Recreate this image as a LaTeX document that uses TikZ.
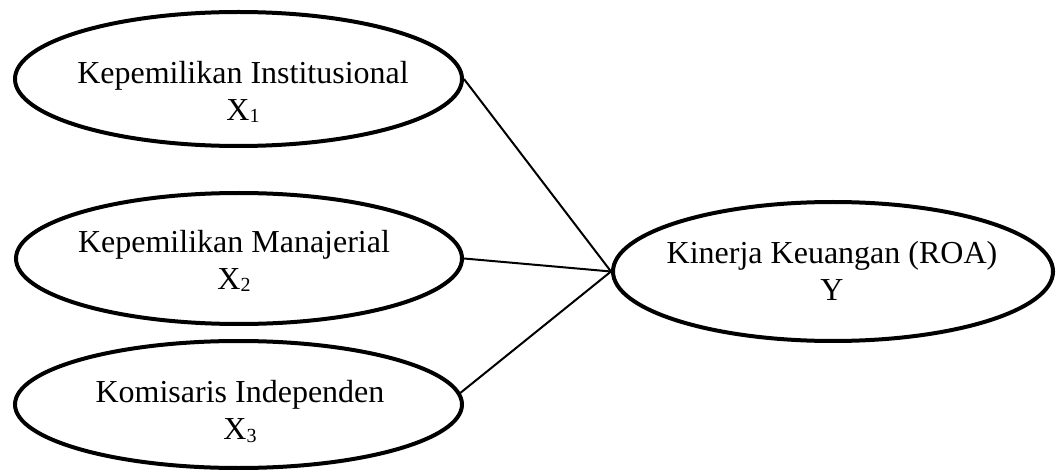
\documentclass[tikz,border=0pt]{standalone}
\usepackage{fontspec}
\setmainfont{Liberation Serif}
\usetikzlibrary{shapes.geometric}
\newcommand{\subx}[1]{\raisebox{-1.6pt}{\fontsize{15}{15}\selectfont #1}}
\tikzset{
  oval/.style={ellipse, draw, line width=3pt, inner sep=0pt},
  lbl/.style={align=center, inner sep=0pt, font=\fontsize{24}{27.75}\selectfont},
  link/.style={line width=1.5pt}
}
\begin{document}
\begin{tikzpicture}[x=0.75pt, y=-0.75pt]
\useasboundingbox (0,0) rectangle (1056,470);
\node[oval, minimum width=447*0.75pt, minimum height=134*0.75pt] (x1) at (238.5,79) {};
\node[oval, minimum width=446*0.75pt, minimum height=131*0.75pt] (x2) at (239,258.5) {};
\node[oval, minimum width=447*0.75pt, minimum height=127*0.75pt] (x3) at (238.5,404.5) {};
\node[oval, minimum width=440*0.75pt, minimum height=139*0.75pt] (y) at (833,271.5) {};
\node[lbl] (t1) at (243,91.5) {Kepemilikan Institusional\\X\subx{1}};
\node[lbl] (t2) at (234,260.5) {Kepemilikan Manajerial\\X\subx{2}};
\node[lbl] (t3) at (240,411.5) {Komisaris Independen\\X\subx{3}};
\node[lbl] (t4) at (832,270.5) {Kinerja Keuangan (ROA)\\Y};
\draw[link] (x1.east) -- (y.west);
\draw[link] (x2.east) -- (y.west);
\draw[link] (x3.3) -- (y.west);
\end{tikzpicture}
\end{document}
